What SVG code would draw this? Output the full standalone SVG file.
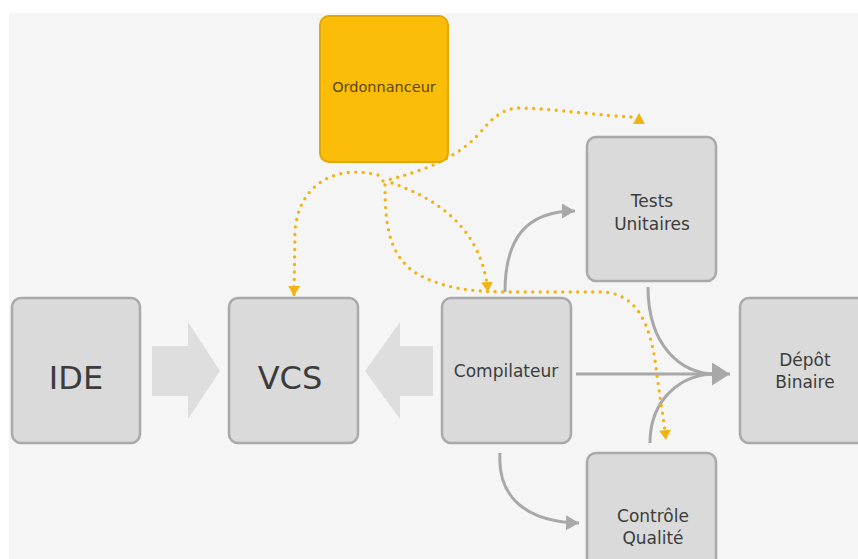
<svg xmlns="http://www.w3.org/2000/svg" width="858" height="559" viewBox="0 0 858 559">
<style>
.box{fill:#dadada;stroke:#a9a9a9;stroke-width:2.5}
.lbl{font-family:"DejaVu Sans","Liberation Sans",sans-serif;fill:#3c3c3c;text-anchor:middle}
.big{font-size:32px}
.mid{font-size:17px}
.gl{fill:none;stroke:#a8a8a8;stroke-width:3}
.yl{fill:none;stroke:#f0b415;stroke-width:3.4;stroke-linecap:round;stroke-dasharray:0 7.5}
.blk{fill:#dedede}
</style>
<defs>
<marker id="ya" markerUnits="userSpaceOnUse" markerWidth="11" markerHeight="12" refX="10" refY="6" orient="auto" viewBox="0 0 11 12"><path d="M0,0 L10,6 L0,12 z" fill="#f0b415"/></marker>
<marker id="gs" markerUnits="userSpaceOnUse" markerWidth="14" markerHeight="15" refX="13" refY="7.5" orient="auto" viewBox="0 0 14 15"><path d="M0,0 L13,7.5 L0,15 z" fill="#a8a8a8"/></marker>
<marker id="gb" markerUnits="userSpaceOnUse" markerWidth="19" markerHeight="23" refX="18" refY="11.5" orient="auto" viewBox="0 0 19 23"><path d="M0,0 L18,11.5 L0,23 z" fill="#a8a8a8"/></marker>
</defs>
<rect x="0" y="0" width="858" height="559" fill="#ffffff"/>
<rect x="9" y="13" width="849" height="546" fill="#f5f5f5"/>
<g id="connectors">
<polygon class="blk" points="152,346 188,346 188,322 220,371 188,419 188,396 152,396"/>
<polygon class="blk" points="433,346 400,346 400,322 365,371 400,419 400,396 433,396"/>
<path class="gl" d="M505 292 C505 240 525 211 575 211" marker-end="url(#gs)"/>
<path class="gl" d="M576 374 L730 374" marker-end="url(#gb)"/>
<path class="gl" d="M648 287 C648 345 680 374 716 374"/>
<path class="gl" d="M650 443 C650 400 680 374 716 374"/>
<path class="gl" d="M500 453 C497 500 530 522 579 523" marker-end="url(#gs)"/>
<path class="yl" d="M383 181 C420 172 455 160 480 133 C492 118 503 108 520 108 C560 109 600 116 633 117"/>
<polygon points="639,113 645,124 633,124" fill="#f0b415"/>
<path class="yl" d="M378 175 C340 165 300 180 295 230 L294 296" marker-end="url(#ya)"/>
<path class="yl" d="M385 185 C385 230 390 265 430 280 C455 290 475 291 500 292 L600 292 C640 292 650 330 655 360 C660 400 664 420 666 440" marker-end="url(#ya)"/>
<path class="yl" d="M392 183 C440 200 482 230 488 292" marker-end="url(#ya)"/>
</g>
<g id="ordonnanceur">
<rect x="320" y="16" width="128" height="146" rx="9" fill="#fbbd08" stroke="#e2a700" stroke-width="2"/>
<text class="lbl" x="384" y="92" font-size="14.5" style="fill:#5a4506">Ordonnanceur</text>
</g>
<g id="ide">
<rect class="box" x="12" y="298" width="128" height="145" rx="9"/>
<text class="lbl big" x="76" y="389">IDE</text>
</g>
<g id="vcs">
<rect class="box" x="229" y="298" width="129" height="145" rx="9"/>
<text class="lbl big" x="290" y="389">VCS</text>
</g>
<g id="compilateur">
<rect class="box" x="442" y="298" width="129" height="145" rx="9"/>
<text class="lbl mid" x="506" y="377">Compilateur</text>
</g>
<g id="tests">
<rect class="box" x="587" y="137" width="129" height="144" rx="9"/>
<text class="lbl mid" x="652" y="207">Tests</text>
<text class="lbl mid" x="652" y="230">Unitaires</text>
</g>
<g id="depot">
<rect class="box" x="740" y="298" width="129" height="145" rx="9"/>
<text class="lbl mid" x="805" y="366">Dépôt</text>
<text class="lbl mid" x="805" y="388">Binaire</text>
</g>
<g id="controle">
<rect class="box" x="587" y="453" width="129" height="130" rx="9"/>
<text class="lbl mid" x="653" y="522">Contrôle</text>
<text class="lbl mid" x="653" y="544">Qualité</text>
</g>
</svg>
